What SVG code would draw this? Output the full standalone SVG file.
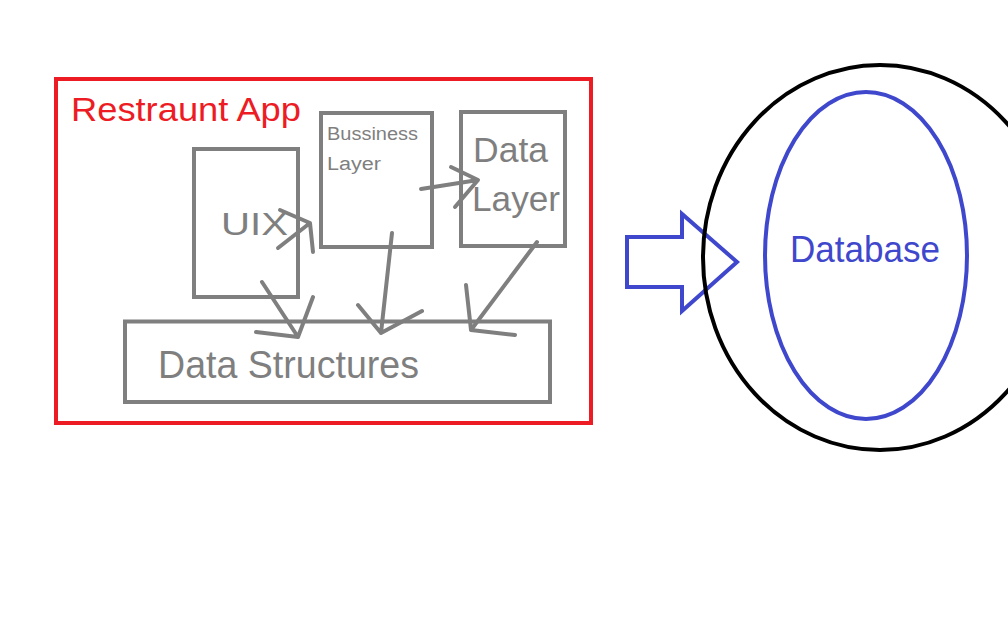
<svg xmlns="http://www.w3.org/2000/svg" width="1008" height="630" viewBox="0 0 1008 630">
<style>
.box{fill:none;stroke:#7f7f7f;stroke-width:4}
.gt{fill:#7f7f7f;font-family:"Liberation Sans","Open Sans",sans-serif}
.ln{fill:none;stroke:#7f7f7f;stroke-width:4;stroke-linecap:round;stroke-linejoin:round}
</style>
<rect width="1008" height="630" fill="#ffffff"/>
<g id="app">
<rect x="56" y="79" width="535" height="344" fill="none" stroke="#ed1c24" stroke-width="4"/>
<text x="71" y="121" font-family="'Liberation Sans','Open Sans',sans-serif" font-size="34" fill="#ed1c24" textLength="230" lengthAdjust="spacingAndGlyphs">Restraunt App</text>
</g>
<g id="uix">
<rect class="box" x="194" y="149" width="104" height="148"/>
<text class="gt" x="221" y="235" font-size="32" textLength="67" lengthAdjust="spacingAndGlyphs">UIX</text>
</g>
<g id="business">
<rect class="box" x="321" y="113" width="111" height="134"/>
<text class="gt" x="327" y="140" font-size="18" textLength="91" lengthAdjust="spacingAndGlyphs">Bussiness</text>
<text class="gt" x="327" y="170" font-size="18" textLength="54" lengthAdjust="spacingAndGlyphs">Layer</text>
</g>
<g id="datalayer">
<rect class="box" x="461" y="112" width="104" height="134"/>
<text class="gt" x="473" y="162" font-size="35" textLength="75" lengthAdjust="spacingAndGlyphs">Data</text>
<text class="gt" x="472" y="211" font-size="35" textLength="88" lengthAdjust="spacingAndGlyphs">Layer</text>
</g>
<g id="datastructures">
<rect class="box" x="125" y="321.5" width="425" height="80.5"/>
<text class="gt" x="158" y="378" font-size="38" textLength="261" lengthAdjust="spacingAndGlyphs">Data Structures</text>
</g>
<g id="connectors">
<path class="ln" d="M280 210 L310 223 L313 252 M278 248 L310 223"/>
<path class="ln" d="M421 189 L478 180 M451 167 L478 180 L455 207"/>
<path class="ln" d="M392 233 L381 333 M358 305 L381 333 L422 311"/>
<path class="ln" d="M262 282 L298 337 M313 297 L298 337 L256 332"/>
<path class="ln" d="M537 242 L471 330 M466 285 L471 330 L515 335"/>
<polygon points="627,237 682,237 682,214 737,262 682,311 682,287 627,287" fill="none" stroke="#3f48cc" stroke-width="4"/>
</g>
<g id="database">
<ellipse cx="880" cy="257.5" rx="177" ry="192.5" fill="none" stroke="#000000" stroke-width="4"/>
<ellipse cx="866" cy="255.5" rx="101" ry="163.5" fill="none" stroke="#3f48cc" stroke-width="4"/>
<text x="790" y="262" font-family="'Liberation Sans','Open Sans',sans-serif" font-size="36" fill="#3f48cc" textLength="150" lengthAdjust="spacingAndGlyphs">Database</text>
</g>
</svg>
